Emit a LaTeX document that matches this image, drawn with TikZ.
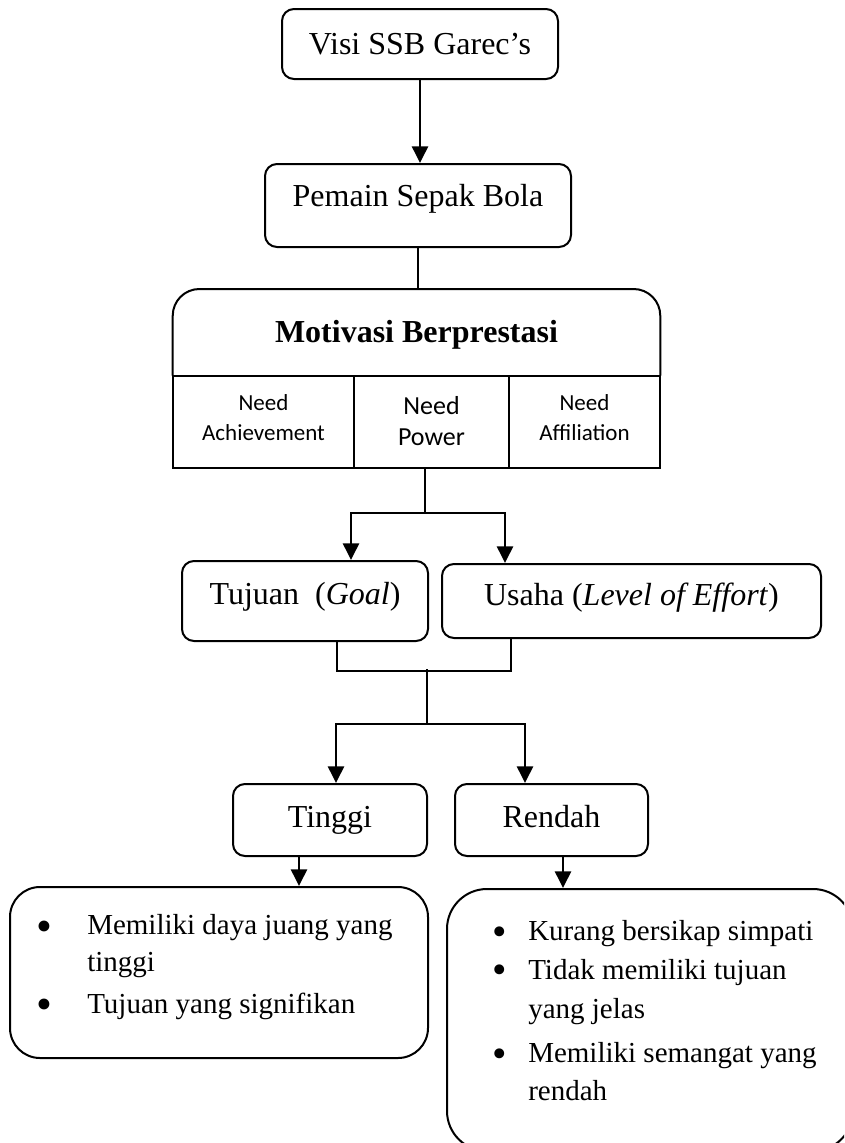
\documentclass[tikz,border=0pt]{standalone}
\usepackage{fontspec}
\setmainfont{Liberation Serif}
\newfontfamily\calibri{Carlito}
\usetikzlibrary{arrows.meta}
\begin{document}
\begin{tikzpicture}[x=0.75pt,y=0.75pt,
  box/.style={draw, line width=1.5pt, rounded corners=9pt, inner sep=0pt, anchor=north,
    font=\fontsize{24pt}{28pt}\selectfont},
  sq/.style={draw, line width=1.5pt, inner sep=0pt, anchor=north,
    font=\calibri\fontsize{17.25pt}{22.5pt}\selectfont},
  bigbox/.style={draw, line width=1.5pt, inner sep=0pt, anchor=north},
  conn/.style={line width=1.9pt},
  arr/.style={conn, -{Triangle[length=12.5pt,width=12pt]}},
  itemtext/.style={anchor=base west, inner sep=0pt, font=\fontsize{21.75pt}{26pt}\selectfont},
  bul/.style={anchor=base, inner sep=0pt, font=\fontsize{34pt}{34pt}\selectfont},
]
\useasboundingbox (0,0) rectangle (844,-1143);
\clip (0,0) rectangle (844,-1143);

% top boxes
\node[box, minimum width=207pt, text height=33.75pt, text depth=18.75pt] (visi) at (420,-8) {Visi SSB Garec's};
\node[box, minimum width=229.5pt, text height=31.5pt, text depth=30.75pt] (pemain) at (418,-163) {Pemain Sepak Bola};

% motivasi
\node[inner sep=0pt, anchor=north, minimum width=365.25pt, text height=39.75pt, text depth=24.75pt,
  font=\bfseries\fontsize{24pt}{28pt}\selectfont] (motiv) at (416.5,-289) {Motivasi Berprestasi};
\draw[line width=1.5pt, rounded corners=20pt] (motiv.south west) -- (motiv.north west) -- (motiv.north east) -- (motiv.south east);

\node[sq, minimum width=135.75pt, text height=48pt, text depth=21pt] (na) at (263.5,-375)
  {\begin{tabular}[b]{@{}c@{}}Need\\Achievement\end{tabular}};
\node[sq, minimum width=116.25pt, text height=51.75pt, text depth=17.25pt,
  font=\calibri\fontsize{19.5pt}{23.25pt}\selectfont] (np) at (431.5,-375)
  {\begin{tabular}[b]{@{}c@{}}Need\\Power\end{tabular}};
\node[sq, minimum width=113.25pt, text height=48pt, text depth=21pt] (nf) at (584.5,-375)
  {\begin{tabular}[b]{@{}c@{}}Need\\Affiliation\end{tabular}};

% goal / effort
\node[box, minimum width=184.5pt, text height=32.25pt, text depth=27.75pt] (tuj) at (305,-560) {Tujuan~~(\textit{Goal})};
\node[box, minimum width=284.25pt, text height=30.75pt, text depth=24.75pt] (usa) at (631.5,-563) {Usaha (\textit{Level of Effort})};

% tinggi / rendah
\node[box, minimum width=145.5pt, text height=32.25pt, text depth=21.75pt] (tin) at (330,-783) {Tinggi};
\node[box, minimum width=144.75pt, text height=32.25pt, text depth=21.75pt] (ren) at (551.5,-783) {Rendah};

% list boxes
\node[bigbox, rounded corners=22.5pt, minimum width=313.5pt, minimum height=128.25pt] (lbox) at (219,-886) {};
\node[bigbox, rounded corners=30pt, minimum width=304.5pt, minimum height=196.5pt] (rbox) at (650,-888) {};

% left list
\node[bul] (lb1) at (44,-941) {\textbullet};
\node[itemtext] (lt1) at (87,-934) {Memiliki daya juang yang};
\node[itemtext] (lt1b) at (87,-971) {tinggi};
\node[bul] (lb2) at (44,-1019) {\textbullet};
\node[itemtext] (lt2) at (87,-1013) {Tujuan yang signifikan};

% right list
\node[bul, font=\fontsize{31pt}{31pt}\selectfont] (rb1) at (500,-945) {\textbullet};
\node[itemtext] (rt1) at (528,-940) {Kurang bersikap simpati};
\node[bul, font=\fontsize{31pt}{31pt}\selectfont] (rb2) at (500,-983) {\textbullet};
\node[itemtext] (rt2) at (528,-979) {Tidak memiliki tujuan};
\node[itemtext] (rt2b) at (528,-1018) {yang jelas};
\node[bul, font=\fontsize{31pt}{31pt}\selectfont] (rb3) at (500,-1067) {\textbullet};
\node[itemtext] (rt3) at (528,-1062) {Memiliki semangat yang};
\node[itemtext] (rt3b) at (528,-1100) {rendah};

% connectors
\draw[arr] (visi.south) -- (visi.south |- pemain.north);
\draw[conn] (pemain.south) -- (pemain.south |- motiv.north);

\coordinate (b1) at (425,-513);
\coordinate (j1) at (351,-513);
\coordinate (j2) at (505,-513);
\draw[conn] (np.south -| b1) -- (b1);
\draw[arr] (b1) -| (tuj.north -| j1);
\draw[arr] (b1) -| (usa.north -| j2);

\coordinate (k1) at (337,-671);
\coordinate (k2) at (511,-671);
\draw[conn] (tuj.south -| k1) -- (k1) -- (k2) -- (usa.south -| k2);
\coordinate (c1) at (427,-669);
\coordinate (c2) at (427,-724);
\coordinate (m1) at (336,-724);
\coordinate (m2) at (525,-724);
\draw[conn] (c1) -- (c2);
\draw[arr] (c2) -| (tin.north -| m1);
\draw[arr] (c2) -| (ren.north -| m2);

\coordinate (t1) at (299,0);
\coordinate (t2) at (563,0);
\draw[arr] (tin.south -| t1) -- (lbox.north -| t1);
\draw[arr] (ren.south -| t2) -- (rbox.north -| t2);
\end{tikzpicture}
\end{document}
